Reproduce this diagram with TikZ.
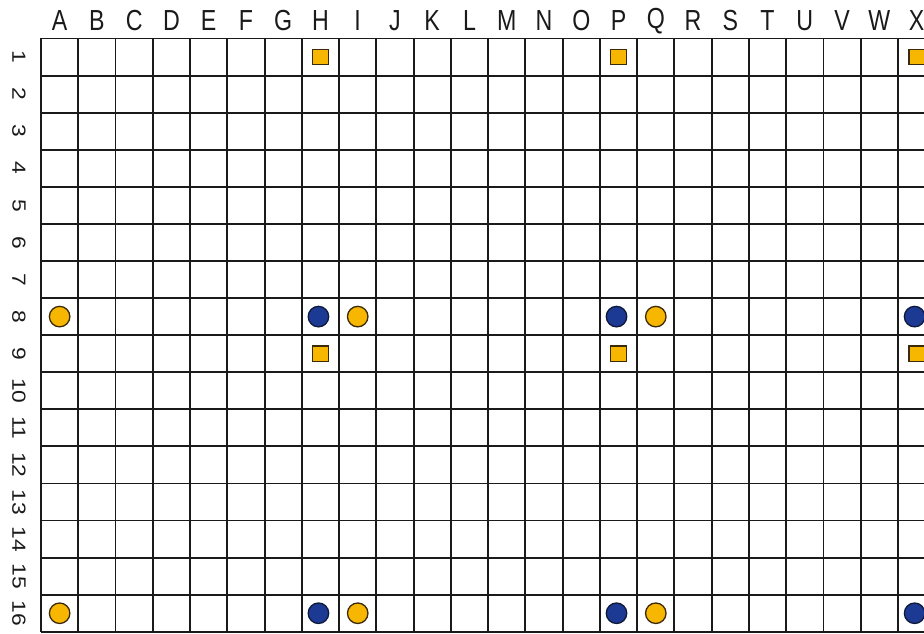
\documentclass[tikz,border=0pt]{standalone}
\usepackage{fontspec}
\newfontfamily\collabfont[FakeStretch=0.8]{Liberation Sans}
\newfontfamily\rowlabfont[FakeStretch=1.2]{Liberation Sans}
\definecolor{markorange}{HTML}{F7B600}
\definecolor{markedge}{HTML}{3A2A0A}
\definecolor{markblue}{HTML}{1C3A94}
\definecolor{blueedge}{HTML}{0E1838}
\definecolor{gridcol}{HTML}{1A1A1A}
\tikzset{
  gridline/.style={draw=gridcol, line width=1.9pt},
  collabel/.style={font=\collabfont\fontsize{29}{29}\selectfont, text=gridcol, inner sep=0pt},
  rowlabel/.style={font=\rowlabfont\fontsize{19}{19}\selectfont, text=gridcol, inner sep=0pt, rotate=-90},
  sqmark/.style={draw=markedge, fill=markorange, line width=1.3pt, minimum size=15.5pt, inner sep=0pt},
  ocirc/.style={circle, draw=markedge, fill=markorange, line width=1.3pt, minimum size=20.5pt, inner sep=0pt},
  bcirc/.style={circle, draw=blueedge, fill=markblue, line width=1.3pt, minimum size=20.5pt, inner sep=0pt}
}
\begin{document}
\begin{tikzpicture}[x=1pt,y=-1pt]
\clip (0,0) rectangle (924,634);
\fill[white] (0,0) rectangle (924,634);
% grid
\foreach \i in {0,...,24}
  \draw[gridline] ({41+\i*37.26},38.5) -- ({41+\i*37.26},632);
\foreach \j in {0,...,16}
  \draw[gridline] (41,{38.5+\j*37.08}) -- (936,{38.5+\j*37.08});
% column labels
\foreach \l [count=\i from 0] in {A,B,C,D,E,F,G,H,I,J,K,L,M,N,O,P,Q,R,S,T,U,V,W,X}
  \node[collabel] (col\l) at ({41+(\i+0.5)*37.26},21) {\l};
% row labels
\foreach \r in {1,...,16}
  \node[rowlabel] (row\r) at (19,{38.5+(\r-0.5)*37.08}) {\r};
% squares
\foreach \c/\n in {7/H,15/P,23/X}
  \foreach \r in {1,9}
    \node[sqmark] (sq\n\r) at ({41+(\c+0.5)*37.26},{38.5+(\r-0.5)*37.08}) {};
% orange circles
\foreach \c/\n in {0/A,8/I,16/Q}
  \foreach \r in {8,16}
    \node[ocirc] (oc\n\r) at ({41+(\c+0.5)*37.26},{38.5+(\r-0.5)*37.08}) {};
% blue circles
\foreach \c/\n in {7/H,15/P,23/X}
  \foreach \r in {8,16}
    \node[bcirc] (bc\n\r) at ({41+(\c+0.5)*37.26-2},{38.5+(\r-0.5)*37.08}) {};
\end{tikzpicture}
\end{document}
